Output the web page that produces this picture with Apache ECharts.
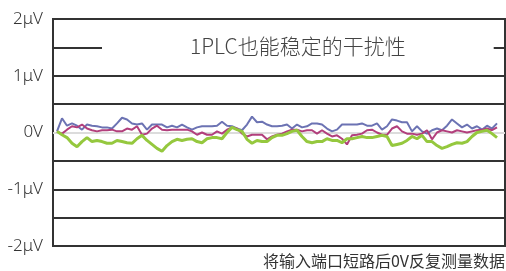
<!DOCTYPE html>
<html>
<head>
<meta charset="utf-8">
<script src="https://cdn.jsdelivr.net/npm/echarts@6/dist/echarts.min.js"></script>
<style>
  html, body { margin: 0; padding: 0; background: #fff; }
  #chart { width: 506px; height: 271px; }
</style>
</head>
<body>
<div id="chart"></div>
<script>
// 三次测量的读数（单位 μV），按采样顺序
const blueValues = [
  0.02, 0.25, 0.12, 0.16, 0.12, 0.05, 0.14, 0.12, 0.11, 0.09,
  0.09, 0.07, 0.16, 0.26, 0.23, 0.16, 0.14, 0.16, 0.05, 0.14,
  0.14, 0.14, 0.09, 0.12, 0.09, 0.14, 0.09, 0.05, 0.09, 0.11,
  0.11, 0.11, 0.12, 0.19, 0.12, 0.11, 0.07, 0.04, 0.14, 0.28,
  0.18, 0.19, 0.14, 0.11, 0.11, 0.12, 0.14, 0.07, 0.14, 0.09,
  0.11, 0.16, 0.16, 0.14, 0.07, 0.02, 0.05, 0.14, 0.14, 0.14,
  0.14, 0.16, 0.12, 0.12, 0.16, 0.05, 0.11, 0.23, 0.21, 0.18,
  0.18, 0.02, 0.11, 0.02, -0.02, 0.04, 0.07, 0.04, 0.12, 0.23,
  0.16, 0.09, 0.14, 0.07, 0.11, 0.05, 0.12, 0.07, 0.16
]
const purpleValues = [
  0.02, -0.02, 0.05, 0.11, 0.09, 0.14, 0.07, 0.04, 0.02, 0.04,
  0.04, 0.05, 0.02, 0.02, 0.07, 0.05, 0.11, -0.04, -0.02, 0.07,
  0.12, 0.05, 0.04, 0.05, 0.05, 0.05, 0.05, 0.02, -0.04, 0,
  -0.04, -0.04, 0.02, -0.02, 0.05, 0.09, 0.07, -0.02, -0.07, -0.04,
  -0.04, -0.04, -0.12, -0.07, -0.04, -0.02, 0.02, 0.05, 0.05, 0.02,
  0.04, 0.04, -0.02, 0.04, -0.02, -0.07, -0.05, -0.11, -0.21, -0.05,
  -0.04, -0.02, 0.04, 0.05, 0, -0.04, -0.04, 0.07, 0.11, 0.02,
  -0.02, -0.02, -0.04, -0.02, 0.04, -0.12, 0, 0.04, 0.02, 0,
  0.04, 0.02, 0, 0.02, 0.04, 0.05, 0.07, 0.04, 0.09
]
const greenValues = [
  0.02, -0.04, -0.09, -0.19, -0.25, -0.16, -0.09, -0.16, -0.14, -0.16,
  -0.19, -0.19, -0.14, -0.16, -0.18, -0.19, -0.11, -0.05, -0.14, -0.21,
  -0.28, -0.33, -0.23, -0.16, -0.12, -0.14, -0.12, -0.11, -0.16, -0.18,
  -0.11, -0.09, -0.09, -0.11, 0, 0.09, 0.05, 0.02, -0.12, -0.19,
  -0.14, -0.16, -0.16, -0.09, -0.05, -0.05, -0.02, 0.02, 0.04, -0.07,
  -0.16, -0.18, -0.16, -0.16, -0.11, -0.14, -0.14, -0.18, -0.11, -0.11,
  -0.09, -0.07, -0.09, -0.09, -0.07, -0.05, -0.07, -0.23, -0.21, -0.19,
  -0.14, -0.07, -0.11, -0.05, -0.16, -0.16, -0.23, -0.28, -0.25, -0.21,
  -0.18, -0.19, -0.16, -0.07, 0, 0.02, 0.04, -0.02, -0.09
]

// 纵轴刻度：只在整数 μV 处显示标签
const yTicks = [-2, -1, 0, 1, 2]

const titleText = '1PLC也能稳定的干扰性'
const captionText = '将输入端口短路后0V反复测量数据'

const chart = echarts.init(document.getElementById('chart'))

const toPoints = arr => arr.map((v, i) => [i, v])

const option = {
  animation: false,
  title: [
    {
      text: titleText,
      left: 102,
      top: 33,
      padding: [3, 88, 3, 88],
      backgroundColor: '#fff',
      z: 10,
      textStyle: {
        fontFamily: '"Noto Sans CJK SC", "Noto Sans", sans-serif',
        fontSize: 21,
        fontWeight: 300,
        color: '#444'
      }
    },
    {
      text: captionText,
      right: 1,
      top: 253,
      padding: 0,
      textStyle: {
        fontFamily: '"Noto Sans CJK SC", sans-serif',
        fontSize: 16,
        fontWeight: 'normal',
        color: '#333'
      }
    }
  ],
  grid: {
    left: 53,
    right: 1,
    top: 19,
    bottom: 25,
    show: true,
    borderColor: '#333',
    borderWidth: 2,
    backgroundColor: 'transparent'
  },
  xAxis: {
    type: 'value',
    min: -0.8,
    max: 89.6,
    show: false
  },
  yAxis: {
    type: 'value',
    min: -2,
    max: 2,
    interval: 0.5,
    axisLine: { show: false },
    axisTick: { show: false },
    axisLabel: {
      margin: 10,
      fontFamily: '"Noto Sans", sans-serif',
      fontSize: 17,
      fontWeight: 300,
      color: '#333',
      formatter: v => {
        if (!yTicks.includes(v)) return ''
        return v === 0 ? '0V' : v + 'μV'
      }
    },
    splitLine: {
      show: true,
      lineStyle: {
        // 0V 线为浅灰色，其余为深色
        color: ['#333', '#333', '#333', '#333', '#dcdcdc', '#333', '#333', '#333', '#333'],
        width: 2
      }
    }
  },
  series: [
    {
      name: 'blue',
      type: 'line',
      data: toPoints(blueValues),
      showSymbol: false,
      lineStyle: { color: '#6c73b3', width: 2 },
      itemStyle: { color: '#6c73b3' }
    },
    {
      name: 'purple',
      type: 'line',
      data: toPoints(purpleValues),
      showSymbol: false,
      lineStyle: { color: '#b23f7c', width: 2 },
      itemStyle: { color: '#b23f7c' }
    },
    {
      name: 'green',
      type: 'line',
      data: toPoints(greenValues),
      showSymbol: false,
      lineStyle: { color: '#95c83e', width: 3 },
      itemStyle: { color: '#95c83e' }
    }
  ]
}

chart.setOption(option)
</script>
</body>
</html>
